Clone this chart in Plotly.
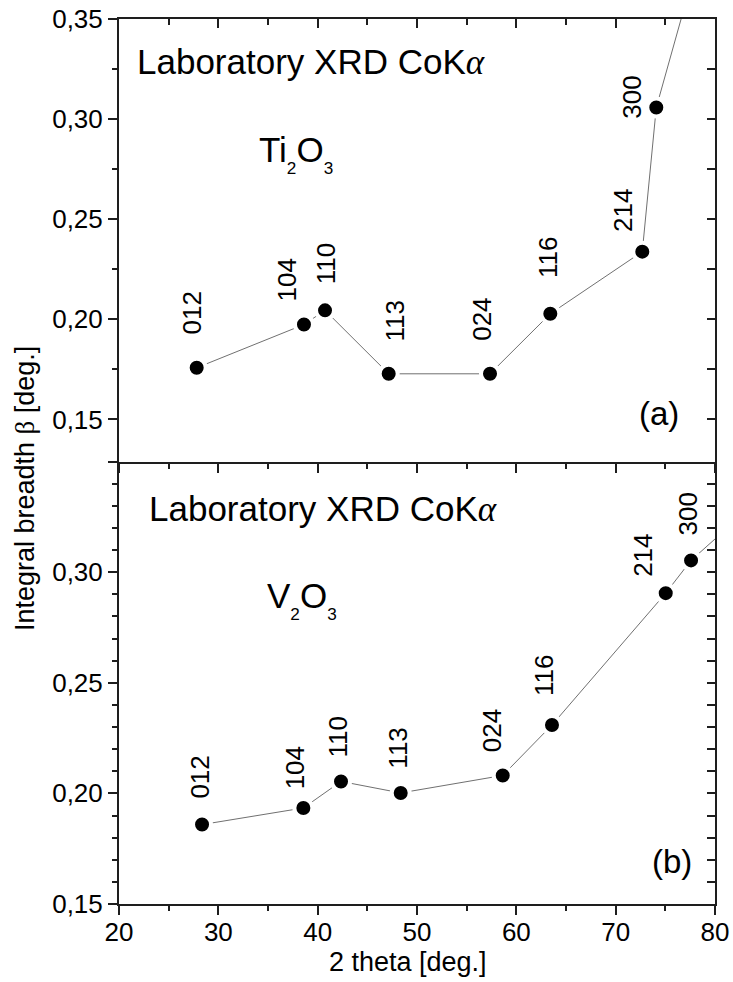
import plotly.graph_objects as go

# Reflections (hkl) and integral breadths for the two sesquioxides
hkl = ["012", "104", "110", "113", "024", "116", "214", "300"]

ti2o3_2theta = [27.82, 38.62, 40.74, 47.15, 57.35, 63.42, 72.68, 74.09, 78.0]
ti2o3_beta = [0.1758, 0.1974, 0.2045, 0.1728, 0.1728, 0.2028, 0.2338, 0.3058, 0.375]

v2o3_2theta = [28.36, 38.56, 42.35, 48.36, 58.63, 63.59, 75.04, 77.59, 82.0]
v2o3_beta = [0.1859, 0.1934, 0.2054, 0.2002, 0.2081, 0.2309, 0.2905, 0.3053, 0.323]

x_ticks = [20, 30, 40, 50, 60, 70, 80]
x_ticklabels = ["20", "30", "40", "50", "60", "70", "80"]
top_yticks = [0.15, 0.20, 0.25, 0.30, 0.35]
top_yticklabels = ["0,15", "0,20", "0,25", "0,30", "0,35"]
bottom_yticks = [0.15, 0.20, 0.25, 0.30, 0.35]
bottom_yticklabels = ["0,15", "0,20", "0,25", "0,30", ""]

# label offsets in pixels (dx, dy) relative to each marker
ti2o3_label_shift = [(-5, 55), (-17, 45), (1, 46), (6, 53), (-8, 54), (-3, 56), (-20, 41), (-25, 10)]
v2o3_label_shift = [(-2, 47), (-8, 40), (-3, 44), (-3, 45), (-10, 45), (-8, 50), (-23, 38), (-3, 46)]

FONT = "Arial, 'Liberation Sans', sans-serif"
AXC = "#1e1e1e"
SERIF = "font-family:'Liberation Serif', 'Times New Roman', serif"

fig = go.Figure()

line_style = dict(color="#707070", width=1)
marker_style = dict(color="black", size=18, line=dict(color="white", width=4))

fig.add_trace(go.Scatter(x=ti2o3_2theta, y=ti2o3_beta, mode="lines+markers",
                         line=line_style, marker=marker_style,
                         xaxis="x2", yaxis="y2", showlegend=False))
fig.add_trace(go.Scatter(x=v2o3_2theta, y=v2o3_beta, mode="lines+markers",
                         line=line_style, marker=marker_style,
                         xaxis="x", yaxis="y", showlegend=False))

# empty traces to host the inward-ticked top/right frame axes
for xa, ya in [("x3", "y"), ("x", "y3"), ("x4", "y2"), ("x2", "y4")]:
    fig.add_trace(go.Scatter(x=[], y=[], xaxis=xa, yaxis=ya, showlegend=False,
                             hoverinfo="skip"))

common_axis = dict(showline=True, linewidth=2, linecolor=AXC, tickcolor=AXC,
                   tickwidth=2, showgrid=False, zeroline=False, automargin=False,
                   tickfont=dict(family=FONT, size=26, color="black"))

x_main = dict(common_axis, range=[20, 80], tickmode="array", tickvals=x_ticks,
              ticktext=x_ticklabels, ticks="outside", ticklen=9,
              ticklabelstandoff=-5,
              minor=dict(ticks="outside", ticklen=5, dtick=5, tick0=0,
                         tickcolor=AXC, tickwidth=2, showgrid=False))

fig.update_layout(
    width=733, height=982,
    margin=dict(l=119, r=18, t=19, b=78, pad=0, autoexpand=False),
    paper_bgcolor="white", plot_bgcolor="white",
    separators=", ",
    showlegend=False,
    font=dict(family=FONT, color="black"),
    xaxis=dict(x_main, domain=[0, 1], anchor="y"),
    xaxis2=dict(x_main, domain=[0, 1], anchor="y2", showticklabels=False,
                matches="x"),
    yaxis=dict(common_axis, domain=[0, 0.5], anchor="x", range=[0.15, 0.35],
               tickmode="array", tickvals=bottom_yticks,
               ticktext=bottom_yticklabels, ticks="outside", ticklen=9,
               minor=dict(ticks="outside", ticklen=5, dtick=0.01, tick0=0,
                          tickcolor=AXC, tickwidth=2, showgrid=False)),
    yaxis2=dict(common_axis, domain=[0.5, 1], anchor="x2", range=[0.129, 0.35],
                tickmode="array", tickvals=top_yticks,
                ticktext=top_yticklabels, ticks="outside", ticklen=9,
                minor=dict(ticks="outside", ticklen=5, dtick=0.025, tick0=0,
                           tickcolor=AXC, tickwidth=2, showgrid=False)),
    # top and right frame lines with inward ticks
    xaxis3=dict(common_axis, overlaying="x", anchor="y", side="top",
                range=[20, 80], showticklabels=False, ticks="inside",
                showline=False, ticklen=9, dtick=10, tick0=0,
                minor=dict(ticks="inside", ticklen=6, dtick=5, tick0=0,
                           tickcolor=AXC, tickwidth=2, showgrid=False)),
    yaxis3=dict(common_axis, overlaying="y", anchor="x", side="right",
                range=[0.15, 0.35], showticklabels=False, ticks="inside",
                ticklen=8, dtick=0.01, tick0=0),
    xaxis4=dict(common_axis, overlaying="x2", anchor="y2", side="top",
                range=[20, 80], showticklabels=False, ticks="inside",
                ticklen=9, dtick=10, tick0=0,
                minor=dict(ticks="inside", ticklen=6, dtick=5, tick0=0,
                           tickcolor=AXC, tickwidth=2, showgrid=False)),
    yaxis4=dict(common_axis, overlaying="y2", anchor="x2", side="right",
                range=[0.129, 0.35], showticklabels=False, ticks="inside",
                ticklen=8, dtick=0.025, tick0=0),
)

annotations = []

def hkl_labels(xs, ys, shifts, xref, yref):
    for lab, xv, yv, (dx, dy) in zip(hkl, xs, ys, shifts):
        annotations.append(dict(text=lab, x=xv, y=yv, xref=xref, yref=yref,
                                xshift=dx, yshift=dy, textangle=-90,
                                showarrow=False, xanchor="center",
                                yanchor="middle",
                                font=dict(family=FONT, size=26, color="black")))

hkl_labels(ti2o3_2theta, ti2o3_beta, ti2o3_label_shift, "x2", "y2")
hkl_labels(v2o3_2theta, v2o3_beta, v2o3_label_shift, "x", "y")

lab_text = f'Laboratory XRD CoK<span style="{SERIF}"><i>α</i></span>'
big = dict(family=FONT, size=35, color="black")

annotations += [
    dict(text=lab_text, x=21.61, y=0.3283, xref="x2", yref="y2",
         xanchor="left", yanchor="middle", showarrow=False, font=big),
    dict(text=lab_text, x=22.79, y=0.3287, xref="x", yref="y",
         xanchor="left", yanchor="middle", showarrow=False, font=big),
    dict(text="Ti<sub><sub>2</sub></sub>O<sub><sub>3</sub></sub>", x=33.86, y=0.2826,
         xref="x2", yref="y2", xanchor="left", yanchor="middle",
         showarrow=False, font=big),
    dict(text="V<sub><sub>2</sub></sub>O<sub><sub>3</sub></sub>", x=34.70, y=0.2875,
         xref="x", yref="y", xanchor="left", yanchor="middle",
         showarrow=False, font=big),
    dict(text="(a)", x=76.58, y=0.1532, xref="x2", yref="y2",
         xanchor="right", yanchor="middle", showarrow=False,
         font=dict(family=FONT, size=33, color="black")),
    dict(text="(b)", x=77.92, y=0.1691, xref="x", yref="y",
         xanchor="right", yanchor="middle", showarrow=False,
         font=dict(family=FONT, size=33, color="black")),
    # axis titles
    dict(text=f'Integral breadth <span style="{SERIF}">β</span> [deg.]',
         x=-0.1567, y=0.4695, xref="paper", yref="paper", textangle=-90,
         xanchor="center", yanchor="middle", showarrow=False,
         font=dict(family=FONT, size=27, color="black")),
    dict(text="2 theta [deg.]", x=0.485, y=-0.0655, xref="paper", yref="paper",
         xanchor="center", yanchor="middle", showarrow=False,
         font=dict(family=FONT, size=27, color="black")),
]

fig.update_layout(annotations=annotations)
fig.write_html("out.html")
